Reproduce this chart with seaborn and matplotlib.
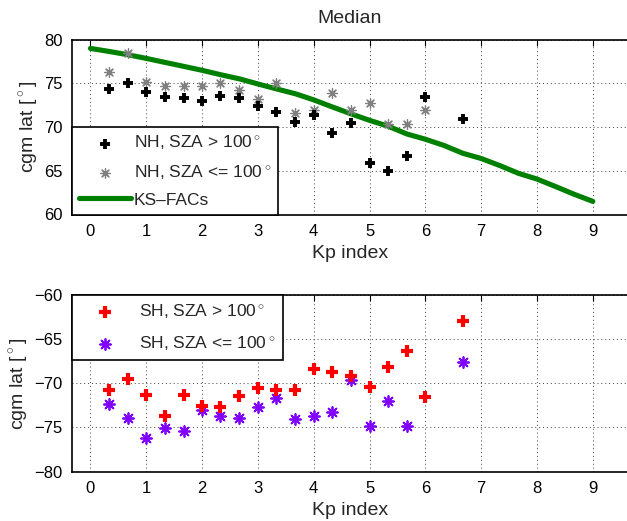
import numpy as np
import pandas as pd
import matplotlib
matplotlib.use("Agg")
import matplotlib.pyplot as plt
import seaborn as sns

# ---------------- data ----------------
kp_all = [0.33, 0.67, 1.0, 1.33, 1.67, 2.0, 2.33, 2.67, 3.0, 3.33, 3.67,
          4.0, 4.33, 4.67, 5.0, 5.33, 5.67, 6.0, 6.67]
nh_night = [74.36, 75.0, 73.98, 73.48, 73.33, 72.95, 73.6, 73.33, 72.35, 71.7,
            70.57, 71.33, 69.27, 70.5, 65.83, 65.0, 66.7, 73.48, 70.95]
kp_nh_day = [0.33, 0.67, 1.0, 1.33, 1.67, 2.0, 2.33, 2.67, 3.0, 3.33, 3.67,
             4.0, 4.33, 4.67, 5.0, 5.33, 5.67, 6.0]
nh_day = [76.25, 78.45, 75.1, 74.73, 74.73, 74.66, 75.0, 74.24, 73.2, 75.0,
          71.6, 72.0, 73.85, 71.9, 72.73, 70.3, 70.38, 71.9]
sh_night = [-70.72, -69.51, -71.28, -73.74, -71.32, -72.53, -72.64, -71.5,
            -70.53, -70.75, -70.72, -68.38, -68.68, -69.13, -70.45, -68.11,
            -66.3, -71.58, -62.98]
kp_sh_day = [0.33, 0.67, 1.0, 1.33, 1.67, 2.0, 2.33, 2.67, 3.0, 3.33, 3.67,
             4.0, 4.33, 4.67, 5.0, 5.33, 5.67, 6.67]
sh_day = [-72.34, -73.92, -76.23, -75.09, -75.36, -73.02, -73.74, -73.92,
          -72.64, -71.66, -74.04, -73.66, -73.28, -69.62, -74.79, -71.96,
          -74.9, -67.55]
ks_kp = [0.0, 0.33, 0.67, 1.0, 1.33, 1.67, 2.0, 2.33, 2.67, 3.0, 3.33, 3.67,
         4.0, 4.33, 4.67, 5.0, 5.33, 5.67, 6.0, 6.33, 6.67, 7.0, 7.33, 7.67,
         8.0, 8.33, 8.67, 9.0]
ks_lat = [78.98, 78.64, 78.26, 77.84, 77.39, 76.93, 76.48, 75.98, 75.5, 74.92,
          74.36, 73.8, 73.1, 72.3, 71.5, 70.76, 70.1, 69.2, 68.6, 67.9, 67.0,
          66.4, 65.6, 64.7, 64.05, 63.2, 62.3, 61.5]
x_ticks = [0, 1, 2, 3, 4, 5, 6, 7, 8, 9]
y_ticks_top = [60, 65, 70, 75, 80]
y_ticks_bot = [-80, -75, -70, -65, -60]

labels_top = [r"NH, SZA > 100$^\circ$", r"NH, SZA <= 100$^\circ$", "KS\u2013FACs"]
labels_bot = [r"SH, SZA > 100$^\circ$", r"SH, SZA <= 100$^\circ$"]

# ---------------- style ----------------
sns.set_theme(style="white")
plt.rcParams["font.family"] = ["Liberation Sans", "DejaVu Sans"]
plt.rcParams["mathtext.fontset"] = "custom"
plt.rcParams["mathtext.rm"] = "Liberation Sans"
plt.rcParams["axes.unicode_minus"] = True

W, H = 627, 521
fig = plt.figure(figsize=(W / 100, H / 100), dpi=100)

def px_axes(left, top, right, bottom):
    return fig.add_axes([left / W, 1 - bottom / H, (right - left) / W, (bottom - top) / H])

ax1 = px_axes(72, 39.5, 628, 214.5)
ax2 = px_axes(72, 295, 628, 471.5)

asterisk = (8, 2, 0)

df_nhn = pd.DataFrame({"kp": kp_all, "lat": nh_night})
df_nhd = pd.DataFrame({"kp": kp_nh_day, "lat": nh_day})
df_ks = pd.DataFrame({"kp": ks_kp, "lat": ks_lat})
df_shn = pd.DataFrame({"kp": kp_all, "lat": sh_night})
df_shd = pd.DataFrame({"kp": kp_sh_day, "lat": sh_day})

sns.lineplot(data=df_ks, x="kp", y="lat", ax=ax1, color="#008000", lw=3.7,
             sort=False, estimator=None, zorder=3, label=labels_top[2])
sns.scatterplot(data=df_nhd, x="kp", y="lat", ax=ax1, marker=asterisk, s=48,
                color="#808080", linewidth=0.9, zorder=4, label=labels_top[1])
sns.scatterplot(data=df_nhn, x="kp", y="lat", ax=ax1, marker="+", s=58,
                color="black", linewidth=2.8, zorder=5, label=labels_top[0])

sns.scatterplot(data=df_shn, x="kp", y="lat", ax=ax2, marker="+", s=64,
                color="#ff0000", linewidth=3.0, zorder=5, label=labels_bot[0])
sns.scatterplot(data=df_shd, x="kp", y="lat", ax=ax2, marker=asterisk, s=62,
                color="#8000ff", linewidth=1.3, zorder=4, label=labels_bot[1])

for ax, yt, ylim in [(ax1, y_ticks_top, (60, 80)), (ax2, y_ticks_bot, (-80, -60))]:
    ax.set_xlim(-0.33, 9.63)
    ax.set_ylim(*ylim)
    ax.set_xticks(x_ticks)
    ax.set_yticks(yt)
    ax.tick_params(direction="in", length=4, width=0.8, top=True, right=False,
                   labelsize=12, pad=7, colors="black")
    ax.grid(True, linestyle=(0, (1, 3)), color="0.25", linewidth=0.7)
    for side in ["left", "bottom", "top"]:
        ax.spines[side].set_visible(True)
        ax.spines[side].set_color("black")
        ax.spines[side].set_linewidth(1.2)
    ax.spines["right"].set_visible(False)
    ax.set_xlabel("Kp index", fontsize=14, labelpad=4)
    ax.set_ylabel(r"cgm lat [$^\circ$]", fontsize=14, labelpad=3)

ax1.set_title("Median", fontsize=14, pad=12)

h1, l1 = ax1.get_legend_handles_labels()
order1 = [l1.index(t) for t in labels_top]
leg1 = ax1.legend([h1[i] for i in order1], [l1[i] for i in order1],
                  loc="lower left", borderaxespad=0, fontsize=12.5,
                  handlelength=3.0, handletextpad=0.15, labelspacing=0.62,
                  borderpad=0.4, frameon=True, fancybox=False, framealpha=1)
leg1.get_frame().set_edgecolor("black")
leg1.get_frame().set_linewidth(1.2)

h2, l2 = ax2.get_legend_handles_labels()
order2 = [l2.index(t) for t in labels_bot]
leg2 = ax2.legend([h2[i] for i in order2], [l2[i] for i in order2],
                  loc="upper left", borderaxespad=0, fontsize=12.5,
                  handlelength=3.0, handletextpad=0.45, labelspacing=0.75,
                  borderpad=0.42, frameon=True, fancybox=False, framealpha=1)
leg2.get_frame().set_edgecolor("black")
leg2.get_frame().set_linewidth(1.2)

fig.savefig("out.png", dpi=100, facecolor="white")
